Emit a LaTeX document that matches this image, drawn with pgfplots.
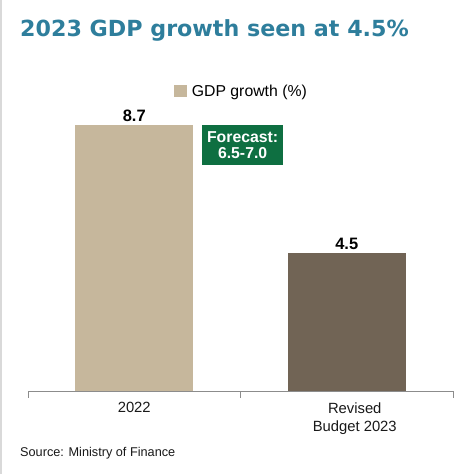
\documentclass[border=0pt]{standalone}
\usepackage{pgfplots}
\pgfplotsset{compat=1.18}
\usepackage{fontspec}
\setmainfont{Liberation Sans}
\newfontfamily\titlefont{DejaVu Sans}
\definecolor{titleblue}{HTML}{2E7E9C}
\definecolor{barA}{HTML}{C6B79C}
\definecolor{barB}{HTML}{716455}
\definecolor{fcgreen}{HTML}{0E6F41}
\definecolor{axgray}{HTML}{8C8C8C}
\begin{document}
\begin{tikzpicture}[x=1pt,y=1pt]
\useasboundingbox (0,0) rectangle (474,474);
\fill[white] (0,0) rectangle (474,474);
\fill[black!15] (0,0) rectangle (2,474);
\node[anchor=base west, inner sep=0pt, text=titleblue, font=\titlefont\bfseries\fontsize{22.2}{26}\selectfont] at (20,437) {2023 GDP growth seen at 4.5\%};
\begin{axis}[
  at={(28pt,83pt)}, anchor=south west,
  scale only axis, width=425pt, height=306pt,
  xmin=-0.5, xmax=1.5, ymin=0, ymax=10,
  axis y line=none, axis x line=bottom,
  x axis line style={-, axgray, line width=1pt},
  xtick={0,1},
  xticklabels={2022,{\hspace*{16pt}Revised\\\hspace*{16pt}Budget 2023}},
  xticklabel style={align=center, font=\fontsize{14.8}{18}\selectfont, text=black!90, yshift=-8pt},
  major tick length=0pt,
  extra x ticks={-0.5,0.5,1.5},
  extra x tick labels={},
  extra x tick style={major tick length=7pt, tick align=outside, tick style={axgray, line width=1pt}},
  clip=false,
  /pgf/number format/.cd, fixed, fixed zerofill, precision=1, assume math mode=true, /pgfplots/.cd,
  legend style={draw=none, fill=none, at={(0.502,0.98)}, anchor=center, font=\fontsize{15.8}{18}\selectfont},
]
\addplot[ybar, bar width=118pt, bar shift=0pt, fill=barA, draw=none,
  nodes near coords, nodes near coords style={font=\bfseries\fontsize{16.5}{19}\selectfont, text=black, anchor=south},
  legend image code/.code={\fill[barA] (0pt,-6pt) rectangle (13pt,6pt); \path (16pt,0pt);}]
  coordinates {(0,8.7)};
\addlegendentry{GDP growth (\%)}
\addplot[ybar, bar width=118pt, bar shift=0pt, fill=barB, draw=none, forget plot,
  nodes near coords, nodes near coords style={font=\bfseries\fontsize{16.5}{19}\selectfont, text=black, anchor=south}]
  coordinates {(1,4.5)};
\node[fill=fcgreen, text=white, font=\bfseries\fontsize{15.8}{16}\selectfont, align=center, minimum width=81pt, minimum height=40pt, inner sep=0pt] at (axis cs:0.51,8.04) {Forecast:\\6.5-7.0};
\end{axis}
\node[anchor=west, inner sep=0pt, font=\fontsize{12.7}{15}\selectfont, text=black!90] at (20,21) {Source: Ministry of Finance};
\end{tikzpicture}
\end{document}
